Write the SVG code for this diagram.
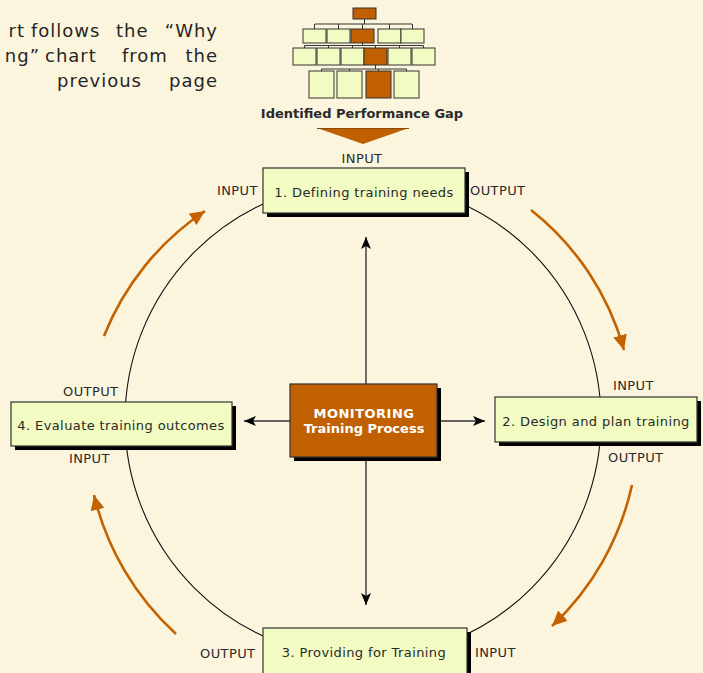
<svg xmlns="http://www.w3.org/2000/svg" width="703" height="673" viewBox="0 0 703 673">
<style>
text{font-family:"DejaVu Sans","Verdana",sans-serif;fill:#2a2a2a}
.lbl{font-size:13px;letter-spacing:0.4px}
.nt{font-size:13px;letter-spacing:0.4px;text-anchor:middle}
.box{fill:#F1FBC2;stroke:#333;stroke-width:1.2}
.sh{fill:#000}
.ob{fill:#F1FBC2;stroke:#333;stroke-width:1}
.oo{fill:#C06000;stroke:#333;stroke-width:1}
.ol{stroke:#333;stroke-width:1;fill:none}
.intro{font-size:18px;letter-spacing:1px;fill:#262626}
.arc{fill:none;stroke:#C46200;stroke-width:2.6}
.ax{stroke:#333;stroke-width:1.4;fill:none}
</style>
<defs>
<marker id="oa" markerUnits="userSpaceOnUse" markerWidth="16" markerHeight="14" refX="15" refY="7" orient="auto">
<path d="M0,0 L15,7 L0,14 z" fill="#C46200"/>
</marker>
<marker id="ba" markerUnits="userSpaceOnUse" markerWidth="14" markerHeight="12" refX="12" refY="5" orient="auto">
<path d="M0,0 L12,5 L0,10 L3,5 z" fill="#000"/>
</marker>
</defs>
<rect width="703" height="673" fill="#FCF5DE"/>

<g id="intro">
<text class="intro"><tspan x="25" y="37" text-anchor="end">rt</tspan><tspan x="31" y="37">follows</tspan><tspan x="116" y="37">the</tspan><tspan x="218" y="37" text-anchor="end">“Why</tspan></text>
<text class="intro"><tspan x="40" y="62" text-anchor="end">ng”</tspan><tspan x="45" y="62">chart</tspan><tspan x="122" y="62">from</tspan><tspan x="218" y="62" text-anchor="end">the</tspan></text>
<text class="intro"><tspan x="57" y="87">previous</tspan><tspan x="218" y="87" text-anchor="end">page</tspan></text>
</g>

<g id="orgchart">
<path class="ol" d="M364.5,19 V24 M315,24 H412 M314.5,24 V29 M338.5,24 V29 M362.5,24 V29 M389.5,24 V29 M412.5,24 V29"/>
<path class="ol" d="M362.5,43 V45.5 M304.5,45.5 H423.5 M304.5,45.5 V48 M328.5,45.5 V48 M352.5,45.5 V48 M375.5,45.5 V48 M399.5,45.5 V48 M423.5,45.5 V48"/>
<path class="ol" d="M375.5,65 V69 M321.5,69 H406.5 M321.5,69 V71 M349.5,69 V71 M378.5,69 V71 M406.5,69 V71"/>
<rect class="oo" x="353" y="8" width="23" height="11"/>
<rect class="ob" x="303" y="29" width="23" height="14"/>
<rect class="ob" x="327" y="29" width="23" height="14"/>
<rect class="oo" x="351" y="29" width="23" height="14"/>
<rect class="ob" x="378" y="29" width="23" height="14"/>
<rect class="ob" x="401" y="29" width="23" height="14"/>
<rect class="ob" x="293" y="48" width="23" height="17"/>
<rect class="ob" x="317" y="48" width="23" height="17"/>
<rect class="ob" x="341" y="48" width="23" height="17"/>
<rect class="oo" x="364" y="48" width="23" height="17"/>
<rect class="ob" x="388" y="48" width="23" height="17"/>
<rect class="ob" x="412" y="48" width="23" height="17"/>
<rect class="ob" x="309" y="71" width="25" height="27"/>
<rect class="ob" x="337" y="71" width="25" height="27"/>
<rect class="oo" x="366" y="71" width="25" height="27"/>
<rect class="ob" x="394" y="71" width="25" height="27"/>
</g>

<g id="gap">
<text x="362" y="118" text-anchor="middle" font-size="13" font-weight="bold">Identified Performance Gap</text>
<polygon points="317,128 409,128 363,144" fill="#C06000"/>
<line x1="317" y1="128.5" x2="409" y2="128.5" stroke="#8a4a00" stroke-width="1"/>
</g>

<g id="connectors">
<circle cx="363" cy="420" r="238" fill="none" stroke="#111" stroke-width="1.1"/>
<path class="arc" d="M531,210 A270,270 0 0,1 624,350" marker-end="url(#oa)"/>
<path class="arc" d="M632,485 A275,275 0 0,1 552,626" marker-end="url(#oa)"/>
<path class="arc" d="M176,634 A275,275 0 0,1 94,495" marker-end="url(#oa)"/>
<path class="arc" d="M104,336 A270,270 0 0,1 205,211" marker-end="url(#oa)"/>
<line class="ax" x1="366" y1="384" x2="366" y2="237" marker-end="url(#ba)"/>
<line class="ax" x1="366" y1="457" x2="366" y2="605" marker-end="url(#ba)"/>
<line class="ax" x1="290" y1="421" x2="244" y2="421" marker-end="url(#ba)"/>
<line class="ax" x1="437" y1="421" x2="485" y2="421" marker-end="url(#ba)"/>
</g>

<g id="node1">
<rect class="sh" x="267" y="172" width="202" height="45"/>
<rect class="box" x="263" y="168" width="202" height="45"/>
<text class="nt" x="364" y="197">1. Defining training needs</text>
<text class="lbl" x="362" y="163" text-anchor="middle">INPUT</text>
<text class="lbl" x="217" y="195">INPUT</text>
<text class="lbl" x="470" y="195">OUTPUT</text>
</g>

<g id="node2">
<rect class="sh" x="499" y="401" width="202" height="45"/>
<rect class="box" x="495" y="397" width="202" height="45"/>
<text class="nt" x="596" y="426">2. Design and plan training</text>
<text class="lbl" x="613" y="390">INPUT</text>
<text class="lbl" x="608" y="462">OUTPUT</text>
</g>

<g id="node3">
<rect class="sh" x="267" y="632" width="204" height="45"/>
<rect class="box" x="263" y="628" width="204" height="50"/>
<text class="nt" x="364" y="657">3. Providing for Training</text>
<text class="lbl" x="200" y="658">OUTPUT</text>
<text class="lbl" x="475" y="657">INPUT</text>
</g>

<g id="node4">
<rect class="sh" x="15" y="406" width="221" height="44"/>
<rect class="box" x="11" y="402" width="221" height="44"/>
<text class="nt" x="121" y="430">4. Evaluate training outcomes</text>
<text class="lbl" x="63" y="396">OUTPUT</text>
<text class="lbl" x="69" y="463">INPUT</text>
</g>

<g id="monitoring">
<rect class="sh" x="294" y="388" width="147" height="73"/>
<rect x="290" y="384" width="147" height="73" fill="#C06000" stroke="#333" stroke-width="1.2"/>
<text x="364" y="418" text-anchor="middle" font-size="13" font-weight="bold" letter-spacing="0.5" style="fill:#fff">MONITORING</text>
<text x="364" y="433" text-anchor="middle" font-size="13" font-weight="bold" style="fill:#fff">Training Process</text>
</g>
</svg>
